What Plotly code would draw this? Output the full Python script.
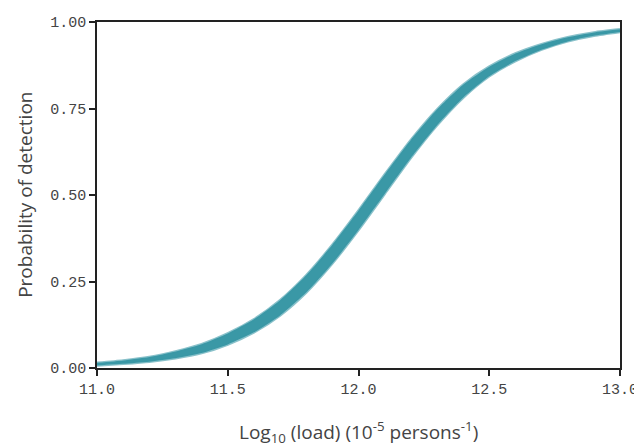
import plotly.graph_objects as go

# Log10 load values
log_load = [11.0, 11.1, 11.2, 11.3, 11.4, 11.5, 11.6, 11.7, 11.8, 11.9, 12.0,
            12.1, 12.2, 12.3, 12.4, 12.5, 12.6, 12.7, 12.8, 12.9, 13.0]
# lower and upper edge of the band of overlapping detection curves
prob_low = [0.007, 0.012, 0.018, 0.028, 0.043, 0.068, 0.103, 0.152, 0.218, 0.302, 0.399,
            0.503, 0.607, 0.701, 0.781, 0.843, 0.887, 0.920, 0.944, 0.960, 0.971]
prob_high = [0.015, 0.022, 0.032, 0.048, 0.069, 0.100, 0.141, 0.196, 0.268, 0.356, 0.455,
             0.559, 0.659, 0.747, 0.819, 0.871, 0.909, 0.936, 0.956, 0.970, 0.979]

teal = "#3a98a6"
teal_soft = "rgba(58,152,166,0.6)"

fig = go.Figure()
fig.add_trace(go.Scatter(x=log_load, y=prob_low, mode="lines",
                         line=dict(color=teal_soft, width=2.5, shape="spline", smoothing=0.6),
                         hoverinfo="skip", showlegend=False))
fig.add_trace(go.Scatter(x=log_load, y=prob_high, mode="lines", fill="tonexty",
                         fillcolor=teal,
                         line=dict(color=teal_soft, width=2.5, shape="spline", smoothing=0.6),
                         hoverinfo="skip", showlegend=False))

tick_font = dict(family="Liberation Mono", size=15, color="#444444")
title_font = dict(family="Open Sans", size=19, color="#444444")

axis_common = dict(showline=True, linecolor="#222222", linewidth=1.5, mirror=True,
                   ticks="outside", ticklen=6, tickcolor="#222222", tickwidth=1.5,
                   showgrid=False, zeroline=False, tickfont=tick_font, automargin=False)

fig.update_layout(
    width=634, height=438,
    margin=dict(l=89, r=22, t=14, b=78),
    paper_bgcolor="white", plot_bgcolor="white",
    xaxis=dict(range=[11.0, 13.0], tickvals=[11.0, 11.5, 12.0, 12.5, 13.0],
               ticktext=["11.0", "11.5", "12.0", "12.5", "13.0"], **axis_common),
    yaxis=dict(range=[0, 1], tickvals=[0, 0.25, 0.5, 0.75, 1.0],
               ticktext=["0.00", "0.25", "0.50", "0.75", "1.00"], **axis_common),
    annotations=[
        dict(text="Log<sub>10</sub> (load) (10<sup>-5</sup> persons<sup>-1</sup>)",
             xref="paper", yref="paper", x=0.5, y=-0.185, xanchor="center", yanchor="middle",
             showarrow=False, font=title_font),
        dict(text="Probability of detection", textangle=-90,
             xref="paper", yref="paper", x=-0.138, y=0.5, xanchor="center", yanchor="middle",
             showarrow=False, font=title_font),
    ],
)

fig.write_html("out.html")
